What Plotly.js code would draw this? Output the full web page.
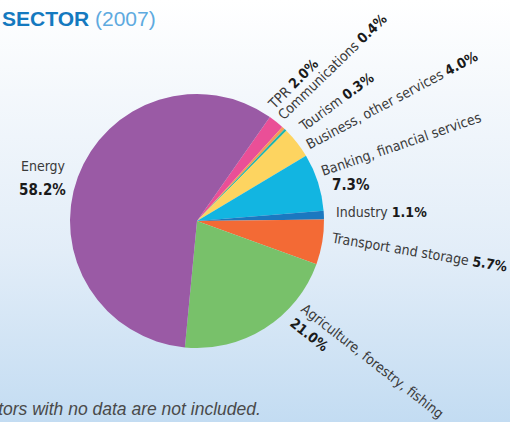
<!DOCTYPE html>
<html>
<head>
<meta charset="utf-8">
<script src="https://cdn.plot.ly/plotly-3.0.1.min.js"></script>
<style>
  html, body { margin: 0; padding: 0; }
  body { width: 510px; height: 422px; overflow: hidden;
         background: linear-gradient(to bottom, #ffffff 0%, #f4f8fc 22%, #e2edf8 60%, #c3dcf2 100%); }
  #chart { width: 510px; height: 422px; }
</style>
</head>
<body>
<div id="chart"></div>
<script>
// ---- data ----
const categories = ["TPR", "Communications", "Tourism", "Business, other services",
                    "Banking, financial services", "Industry", "Transport and storage",
                    "Agriculture, forestry, fishing", "Energy"];
const shares = [2.0, 0.4, 0.3, 4.0, 7.3, 1.1, 5.7, 21.0, 58.2];
const titleMain = "SECTOR";
const titleYear = "(2007)";
const footnote = "Sectors with no data are not included.";

// ---- styling ----
const colors = ["#ea4f97", "#f59a55", "#1fb5a9", "#fdd460", "#12b5e1",
                "#1b78c0", "#f36a35", "#78c16a", "#9a5aa5"];
const W = 510, H = 422;
const px = (x) => x / W;
const py = (y) => 1 - y / H;
const FONT = "'DejaVu Sans Condensed', 'Liberation Sans', sans-serif";
const FS = 14;

// label placement (center pixel, angle, layout style) per category index
const labelPos = [
  {i: 0, cx: 293, cy: 84,  a: -45},
  {i: 1, cx: 332, cy: 67,  a: -44},
  {i: 2, cx: 336, cy: 102, a: -36},
  {i: 3, cx: 392, cy: 100, a: -28},
  {i: 4, cx: 401, cy: 144, a: -19, split: true, vcx: 351, vcy: 185},
  {i: 5, cx: 381, cy: 212, a: 0},
  {i: 6, cx: 419, cy: 252, a: 9.5},
  {i: 7, cx: 367, cy: 368, a: 38, block: true},
  {i: 8, cx: 43,  cy: 166, a: 0, split: true, vcx: 42, vcy: 190}
];

const annotations = [];
const nameSpan = (t) => '<span style="color:#3a3a3a">' + t + '</span>';
const valSpan = (v) => '<b style="color:#1a1a1a">' + v.toFixed(1) + '%</b>';

labelPos.forEach(p => {
  const name = categories[p.i], v = shares[p.i];
  let text;
  if (p.split) {
    text = nameSpan(name);
    annotations.push({
      x: px(p.vcx), y: py(p.vcy), xref: 'paper', yref: 'paper',
      xanchor: 'center', yanchor: 'middle', showarrow: false,
      text: valSpan(v), font: {family: FONT, size: FS + 1, color: '#1a1a1a'}
    });
  } else if (p.block) {
    text = nameSpan(name) + '<br>' + valSpan(v);
  } else {
    text = nameSpan(name) + ' ' + valSpan(v);
  }
  annotations.push({
    x: px(p.cx), y: py(p.cy), xref: 'paper', yref: 'paper',
    xanchor: 'center', yanchor: 'middle', showarrow: false,
    textangle: p.a, align: 'left',
    text: text, font: {family: FONT, size: FS, color: '#3a3a3a'}
  });
});

// title
annotations.push({
  x: px(0), y: py(18), xref: 'paper', yref: 'paper', xanchor: 'left', yanchor: 'middle',
  showarrow: false,
  text: '<b style="color:#1479bf">' + titleMain + '</b> <span style="color:#5eaadf">' + titleYear + '</span>',
  font: {family: "'Liberation Sans', sans-serif", size: 21, color: '#1479bf'}
});
// footnote (left part runs off the canvas edge, as in the reference)
annotations.push({
  x: px(263), y: py(409), xref: 'paper', yref: 'paper', xanchor: 'right', yanchor: 'middle',
  showarrow: false, text: '<i>' + footnote + '</i>',
  font: {family: "'Liberation Sans', sans-serif", size: 17.5, color: '#4a4a4a'}
});

const cx = 197, cy = 221, r = 127;
const trace = {
  type: 'pie',
  labels: categories,
  values: shares,
  sort: false,
  direction: 'clockwise',
  rotation: 35,
  marker: {colors: colors, line: {width: 0}},
  textinfo: 'none',
  hoverinfo: 'none',
  domain: {x: [px(cx - r), px(cx + r)], y: [py(cy + r), py(cy - r)]}
};

const layout = {
  width: W, height: H,
  margin: {l: 0, r: 0, t: 0, b: 0},
  paper_bgcolor: 'rgba(0,0,0,0)',
  plot_bgcolor: 'rgba(0,0,0,0)',
  showlegend: false,
  annotations: annotations
};

Plotly.newPlot('chart', [trace], layout, {displayModeBar: false, staticPlot: true});
</script>
</body>
</html>
